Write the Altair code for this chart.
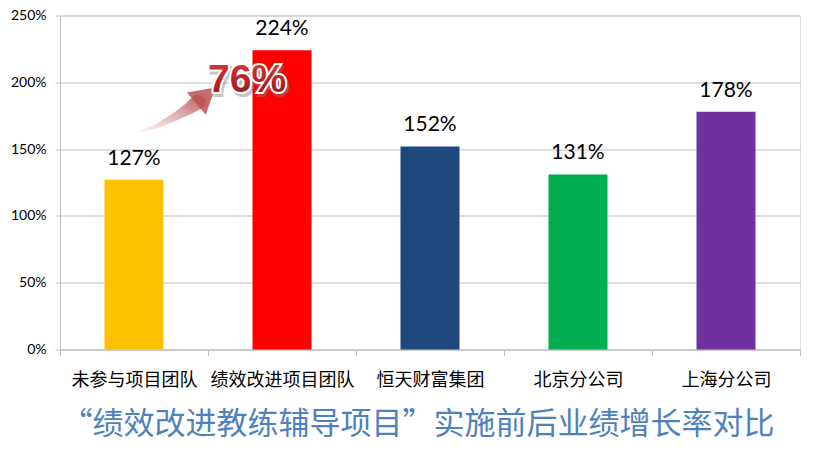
import altair as alt
import pandas as pd

# ---- data ----
categories = ["未参与项目团队", "绩效改进项目团队", "恒天财富集团", "北京分公司", "上海分公司"]
values = [1.27, 2.24, 1.52, 1.31, 1.78]
bar_colors = ["#FFC000", "#FF0000", "#1F497D", "#00B050", "#7030A0"]
y_ticks = [0, 0.5, 1.0, 1.5, 2.0, 2.5]
title_text = "“绩效改进教练辅导项目”实施前后业绩增长率对比"

# annotation (arrow + gain), in a 0..5 category-index space
arrow_x = [0.493, 0.642, 0.777, 0.878, 0.932]
arrow_y = [1.613, 1.666, 1.741, 1.808, 1.852]
arrow_w = [0, 4, 8, 12, 15]
head_x = [0.986]
head_y = [1.901]
gain_text = ["76%"]
gain_x = [1.264]
gain_y = [2.017]

bars_df = pd.DataFrame({"cat": categories, "val": values, "color": bar_colors})
arrow_df = pd.DataFrame({"x": arrow_x, "y": arrow_y, "w": arrow_w})
head_df = pd.DataFrame({"x": head_x, "y": head_y})
gain_df = pd.DataFrame({"x": gain_x, "y": gain_y, "t": gain_text})

yscale = alt.Scale(domain=[0, 2.5], nice=False, zero=True)

base = alt.Chart(bars_df).encode(
    x=alt.X("cat:N", sort=categories, title=None,
            scale=alt.Scale(paddingInner=0, paddingOuter=0),
            axis=alt.Axis(labelAngle=0, labelFont="Noto Sans CJK SC", labelFontSize=18,
                          labelColor="#000000", domainColor="#BFBFBF", tickColor="#BFBFBF",
                          tickSize=6, tickBand="extent", labelPadding=16, grid=False)),
    y=alt.Y("val:Q", scale=yscale, title=None,
            axis=alt.Axis(values=y_ticks, format=".0%", labelFont="Lato", labelFontSize=14,
                          labelColor="#000000", domainColor="#BFBFBF", gridColor="#BFBFBF",
                          tickColor="#BFBFBF", tickSize=5, labelPadding=9)),
)

bars = base.mark_bar(size=59).encode(color=alt.Color("color:N", scale=None))
labels = base.mark_text(font="Lato", fontSize=21, color="#000000", baseline="alphabetic", dy=-15).encode(
    text=alt.Text("val:Q", format=".0%"))

xq = alt.X("x:Q", scale=alt.Scale(domain=[0, 5], nice=False, zero=False), axis=None)
yq = alt.Y("y:Q", scale=yscale, title=None)

trail_grad = alt.LinearGradient(
    gradient="linear",
    stops=[alt.GradientStop(offset=0, color="#FFFFFF"),
           alt.GradientStop(offset=0.5, color="#E2B4B4"),
           alt.GradientStop(offset=1, color="#B84848")],
    x1=0, y1=1, x2=1, y2=0)

arrow = alt.Chart(arrow_df).mark_trail(color=trail_grad, opacity=0.9).encode(
    x=xq, y=yq, size=alt.Size("w:Q", scale=None, legend=None))

head = alt.Chart(head_df).mark_point(shape="triangle-up", filled=True, size=850, angle=50,
                                     color="#BC5252", opacity=0.85).encode(x=xq, y=yq)

text_grad = alt.LinearGradient(
    gradient="linear",
    stops=[alt.GradientStop(offset=0, color="#E23B3B"),
           alt.GradientStop(offset=1, color="#8E1414")],
    x1=0, y1=0, x2=0, y2=1)

gain_shadow = alt.Chart(gain_df).mark_text(font="Liberation Sans", fontWeight="bold", fontSize=39,
                                           color="#7F7F7F", stroke="#7F7F7F", strokeWidth=4,
                                           opacity=0.45, dx=2, dy=3, baseline="middle").encode(
    x=xq, y=yq, text="t:N")
gain_outline = alt.Chart(gain_df).mark_text(font="Liberation Sans", fontWeight="bold", fontSize=39,
                                            color="#FFFFFF", stroke="#FFFFFF", strokeWidth=4,
                                            baseline="middle").encode(x=xq, y=yq, text="t:N")
gain_fill = alt.Chart(gain_df).mark_text(font="Liberation Sans", fontWeight="bold", fontSize=39,
                                         color=text_grad, baseline="middle").encode(
    x=xq, y=yq, text="t:N")

annot = alt.layer(arrow, head, gain_shadow, gain_outline, gain_fill)

chart = alt.layer(alt.layer(bars, labels), annot).resolve_scale(
    x="independent"
).properties(
    width=740, height=334,
    autosize=alt.AutoSizeParams(type="none"),
    padding={"left": 52, "top": 7.5, "right": 7, "bottom": 107},
    title=alt.TitleParams(text=title_text, orient="bottom", fontSize=31, font="Noto Sans CJK SC",
                          color="#4F81BD", fontWeight="normal", offset=20, anchor="middle", dx=-12),
).configure_view(stroke=None).configure(background="#FFFFFF")

chart.save("out.html", embed_options={"renderer": "svg", "actions": False})
